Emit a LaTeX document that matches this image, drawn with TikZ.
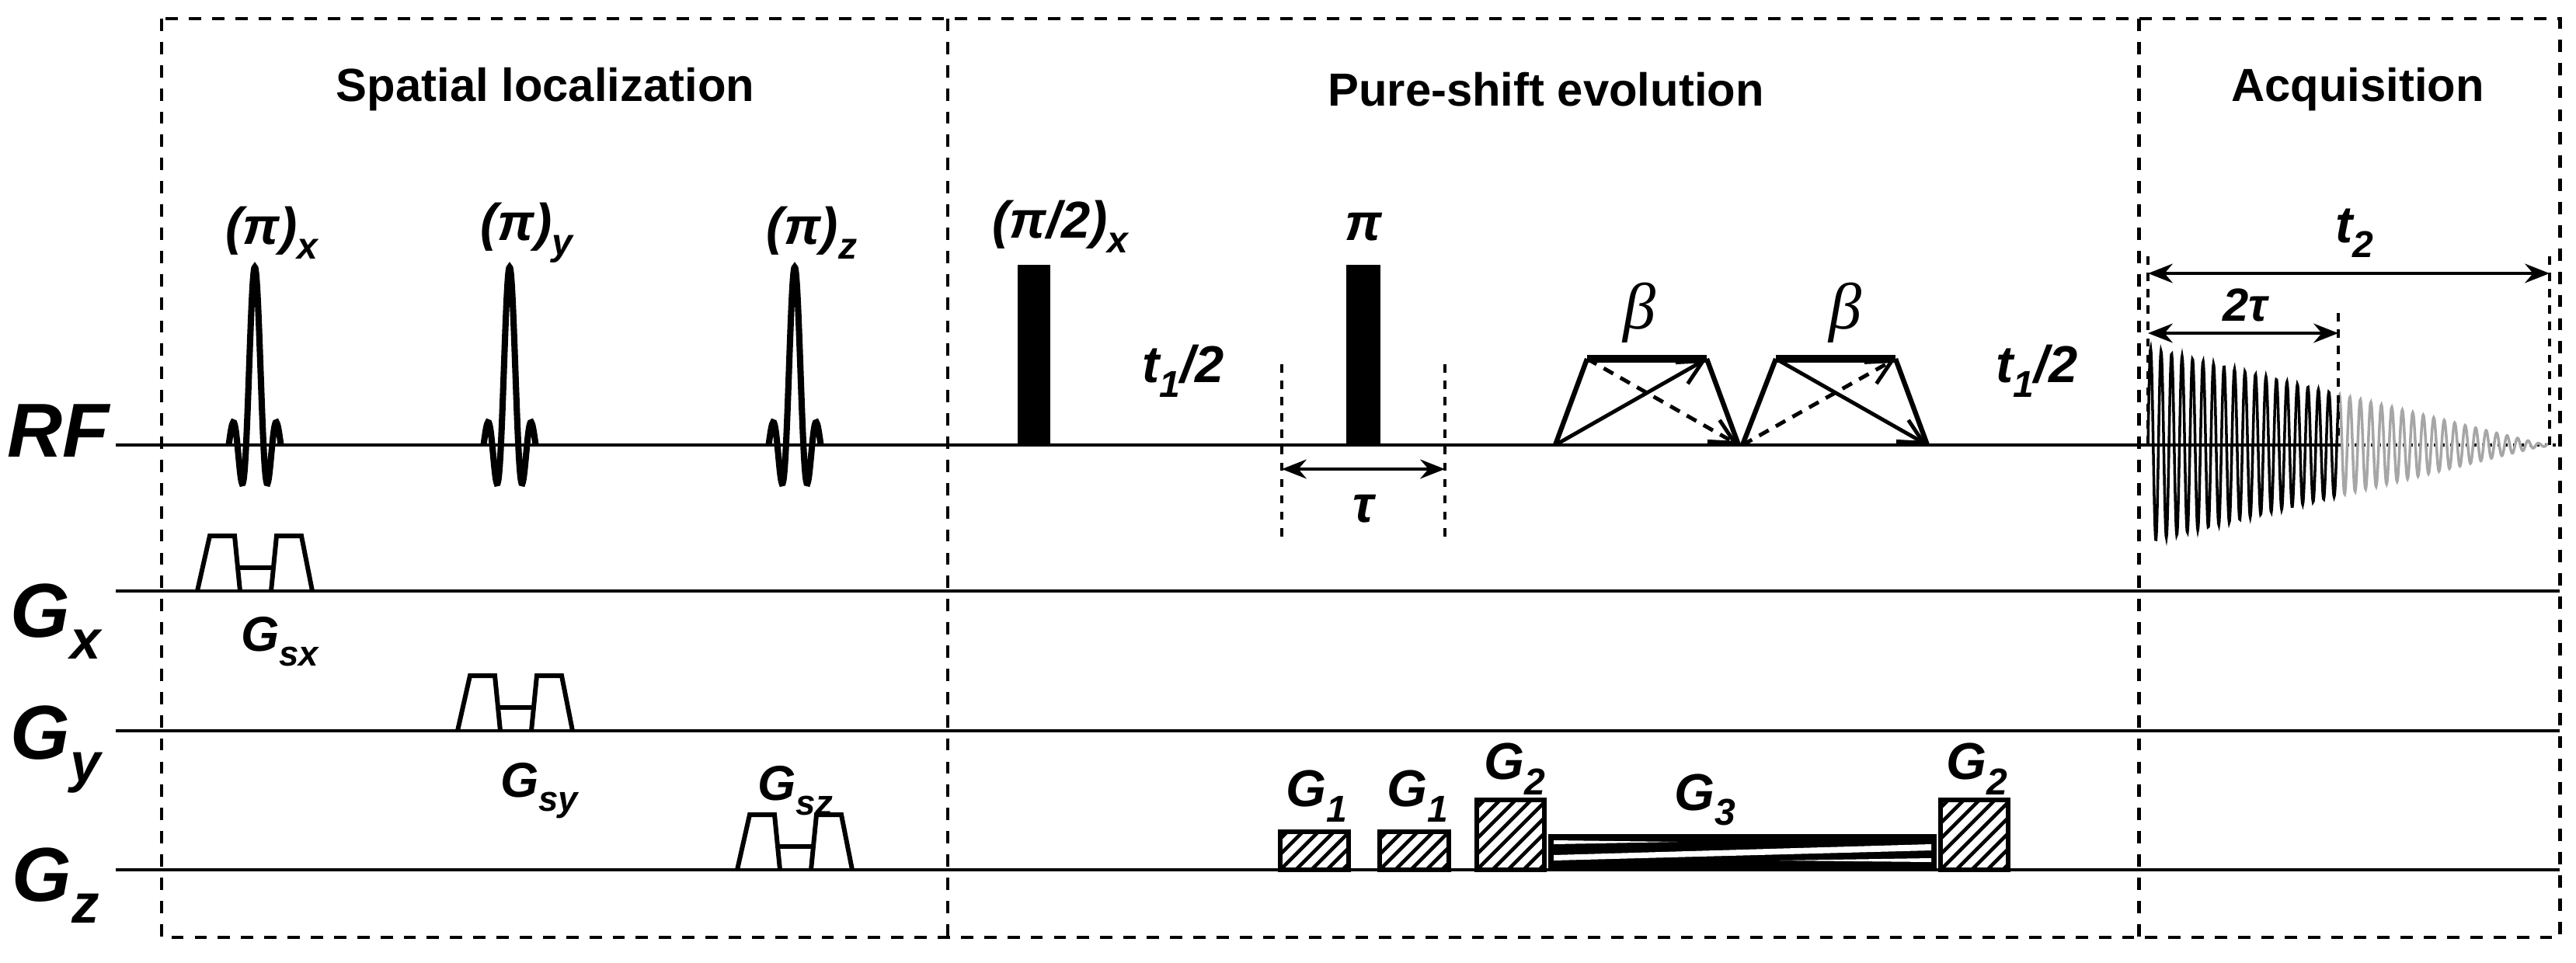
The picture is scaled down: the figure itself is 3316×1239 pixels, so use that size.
\documentclass[tikz,border=0pt]{standalone}
\usepackage{fontspec}
\setmainfont{Liberation Sans}
\newfontfamily\betafont{Liberation Serif}
\usetikzlibrary{arrows.meta}

\newcommand\lowsub[1]{\raisebox{-0.55ex}{\scalebox{0.72}{#1}}}
% sinc shaped selective pulse at x = #1
\newcommand\sincpulse[1]{\draw[sincline] plot[domain=-33.6:33.6,samples=60,smooth] ({#1+\x},{573-229*sin(16.09*\x)/(0.2808*\x)});}
% pair of slice gradient lobes, left foot at #1, base line at #2
\newcommand\slicepair[2]{\draw[gline] (#1,#2) -- ++(16,-71) -- ++(32,0) -- ++(7,71);
\draw[gline] ({#1+95},#2) -- ++(7,-71) -- ++(32,0) -- ++(14,71);
\draw[gline] ({#1+53},{#2-30}) -- ({#1+98},{#2-30});}
% hatched gradient block
\newcommand\hatchbox[4]{\begin{scope}
\clip (#1,#2) rectangle (#3,#4);
\foreach \k in {-160,-140,...,100} \draw[line width=1.3pt] ({#1+\k},#4) -- ++(140,-140);
\end{scope}
\draw[gline] (#1,#2) rectangle (#3,#4);}

\tikzset{
  base/.style={line width=0.9pt},
  gline/.style={line width=1.7pt, line join=miter},
  sincline/.style={line width=2.3pt},
  frame/.style={line width=1.4pt, dash pattern=on 4.5pt off 4pt},
  vdash/.style={line width=1pt, dash pattern=on 3pt off 3pt},
  dim/.style={line width=1.4pt, {Stealth[length=9pt,width=7pt]}-{Stealth[length=9pt,width=7pt]}},
  flip/.style={line width=1.4pt, -{Straight Barb[length=9pt,width=9pt]}},
  flipd/.style={flip, dash pattern=on 4pt off 3pt},
  title/.style={font=\bfseries\fontsize{17}{20}\selectfont},
  chan/.style={font=\bfseries\itshape\fontsize{28}{32}\selectfont},
  lbl/.style={font=\bfseries\itshape\fontsize{19}{22}\selectfont},
  glbl/.style={font=\bfseries\itshape\fontsize{18}{21}\selectfont},
  betalbl/.style={font=\betafont\itshape\fontsize{24}{26}\selectfont},
}

\begin{document}
\begin{tikzpicture}[x=0.01cm,y=-0.01cm]
\useasboundingbox (0,0) rectangle (3316,1239);

% frames
\draw[frame] (208,24) rectangle (3295,1207);
\draw[frame] (1220,24) -- (1220,1207);
\draw[frame] (2753,24) -- (2753,1207);

\node[title] (tspat) at (702,115) {Spatial localization};
\node[title] (tpure) at (1990,115) {Pure-shift evolution};
\node[title] (tacq) at (3035,115) {Acquisition};

% channel lines
\node[chan] (rf) at (75,555) {RF};
\node[chan] (gx) at (72,800) {G\lowsub{x}};
\node[chan] (gy) at (72,965) {G\lowsub{y}};
\node[chan] (gz) at (72,1140) {G\lowsub{z}};

\draw[base] (149,573) -- (3011,573);
\draw[base, dotted] (3011,573) -- (3290,573);
\draw[base] (149,761) -- (3295,761);
\draw[base] (149,941) -- (3295,941);
\draw[base] (149,1120) -- (3295,1120);

% spatial localization
\sincpulse{328}
\sincpulse{656}
\sincpulse{1023}
\node[lbl] (px) at (350,300) {(π)\lowsub{x}};
\node[lbl] (py) at (678,300) {(π)\lowsub{y}};
\node[lbl] (pz) at (1045,300) {(π)\lowsub{z}};

\slicepair{254}{761}
\slicepair{589}{941}
\slicepair{949}{1120}
\node[glbl] (gsx) at (360,826) {G\lowsub{sx}};
\node[glbl] (gsy) at (694,1018) {G\lowsub{sy}};
\node[glbl] (gsz) at (1024,1018) {G\lowsub{sz}};

% hard pulses
\fill (1310,341) rectangle (1352,573);
\fill (1733,341) rectangle (1777,573);
\node[lbl] (p90) at (1365,292) {(π/2)\lowsub{x}};
\node[lbl] (p180) at (1755,292) {π};
\node[lbl] (ta) at (1523,478) {t\lowsub{1}/2};
\node[lbl] (tb) at (2622,478) {t\lowsub{1}/2};

% tau
\coordinate (tauL) at (1650,604);
\coordinate (tauR) at (1860,604);
\draw[vdash] (1650,469) -- (1650,691);
\draw[vdash] (1860,469) -- (1860,691);
\draw[dim] (tauL) -- (tauR);
\node[lbl] (tau) at (1755,655) {τ};

% beta flip pulses
\coordinate (a0) at (2002,573);
\coordinate (a1) at (2043,462);
\coordinate (a2) at (2197,462);
\coordinate (a3) at (2238,573);
\coordinate (b0) at (2243,573);
\coordinate (b1) at (2286,462);
\coordinate (b2) at (2440,462);
\coordinate (b3) at (2481,573);
\draw[line width=1.8pt] (a0) -- (a1);
\draw[line width=3pt] (a1) -- (a2);
\draw[line width=1.8pt] (a2) -- (a3);
\draw[line width=1.8pt] (b0) -- (b1);
\draw[line width=3pt] (b1) -- (b2);
\draw[line width=1.8pt] (b2) -- (b3);
\draw[flip] (a0) -- (a2);
\draw[flipd] (a1) -- (a3);
\draw[flip] (b1) -- (b3);
\draw[flipd] (b0) -- (b2);
\node[betalbl] (beta1) at (2110,403) {β};
\node[betalbl] (beta2) at (2375,403) {β};

% pure-shift gradients
\hatchbox{1648}{1071}{1736}{1120}
\hatchbox{1776}{1071}{1865}{1120}
\hatchbox{1901}{1030}{1988}{1120}
\hatchbox{2498}{1030}{2585}{1120}
\fill (1993,1074) rectangle (2493,1120);
\fill[white] (2000,1082) -- (2160,1084) -- (2000,1087) -- cycle;
\fill[white] (2000,1101) -- (2486,1087) -- (2486,1095) -- (2000,1108) -- cycle;
\fill[white] (2290,1108) -- (2486,1105) -- (2486,1110) -- cycle;
\node[lbl] (g1a) at (1695,1025) {G\lowsub{1}};
\node[lbl] (g1b) at (1825,1025) {G\lowsub{1}};
\node[lbl] (g2a) at (1950,990) {G\lowsub{2}};
\node[lbl] (g3) at (2195,1030) {G\lowsub{3}};
\node[lbl] (g2b) at (2545,990) {G\lowsub{2}};

% acquisition
\draw[line width=1pt] plot[domain=0:246,samples=500] ({2765+\x},{573-(125-0.244*\x)*sin(26.667*\x)});
\draw[line width=1pt, gray!70] plot[domain=246:515,samples=520] ({2765+\x},{573-max(2,125-0.244*\x)*sin(26.667*\x)});
\draw[base] (2765,573) -- (3011,573);
\coordinate (acqL) at (2765,352);
\coordinate (acqR) at (3282,352);
\coordinate (echoL) at (2765,429);
\coordinate (echoR) at (3010,429);
\draw[vdash] (2765,330) -- (2765,573);
\draw[vdash] (3010,403) -- (3010,573);
\draw[vdash] (3282,330) -- (3282,573);
\draw[dim] (acqL) -- (acqR);
\draw[dim] (echoL) -- (echoR);
\node[lbl] (t2) at (3031,300) {t\lowsub{2}};
\node[font=\bfseries\itshape\fontsize{17}{20}\selectfont] (twotau) at (2890,393) {2τ};

\end{tikzpicture}
\end{document}
